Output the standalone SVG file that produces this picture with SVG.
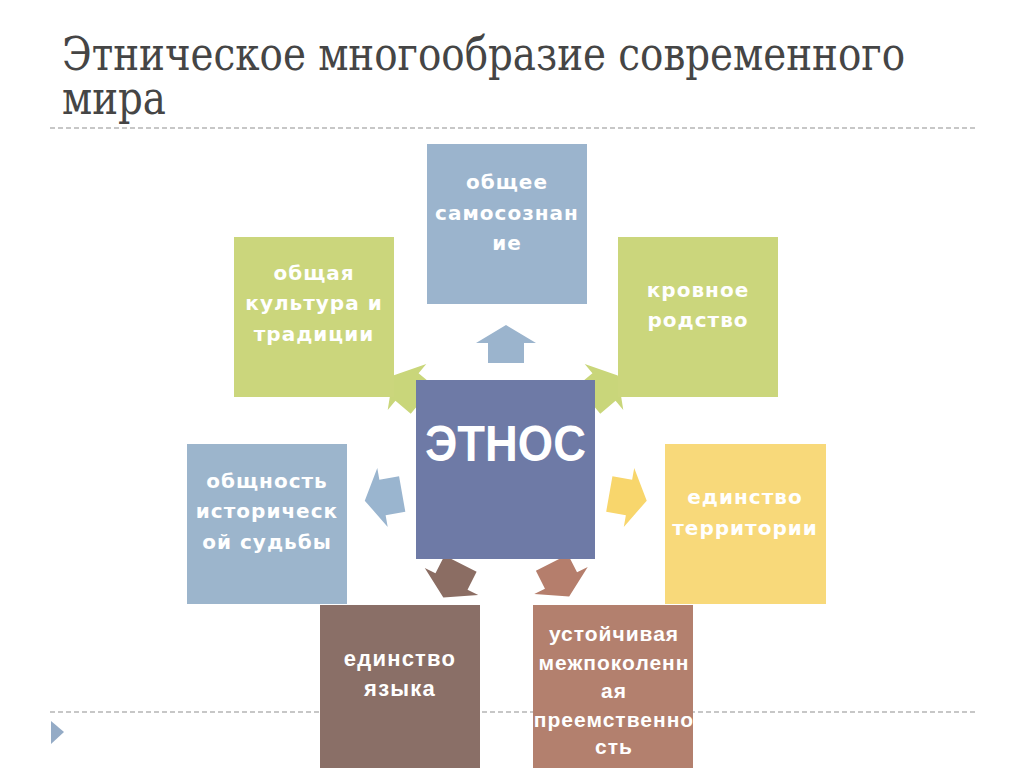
<svg xmlns="http://www.w3.org/2000/svg" width="1024" height="768" viewBox="0 0 1024 768">
<defs>
<style>
.title{font-family:"DejaVu Serif Condensed","DejaVu Serif","Liberation Serif",serif;font-stretch:condensed;font-size:38px;fill:#454545}
.lbl{font-family:"DejaVu Sans","Liberation Sans",sans-serif;font-weight:bold;font-size:20px;fill:#ffffff;text-anchor:middle;letter-spacing:1px}
.lbl2{font-family:"Liberation Sans","Arial",sans-serif;font-weight:bold;font-size:21px;fill:#ffffff;text-anchor:middle;letter-spacing:1px}
.lbl3{font-family:"Liberation Sans","Arial",sans-serif;font-weight:bold;font-size:22px;fill:#ffffff;text-anchor:middle;letter-spacing:1.2px}
.big{font-family:"Liberation Sans","Arial",sans-serif;font-weight:bold;font-size:50px;fill:#ffffff}
.dash{stroke:#b5b5b5;stroke-width:1.5;stroke-dasharray:5 3;fill:none}
</style>
<path id="arr" d="M0,-18 L30,0 L18,0 L18,20 L-18,20 L-18,0 L-30,0 Z"/>
</defs>
<rect width="1024" height="768" fill="#ffffff"/>
<text class="title" transform="translate(62,70) scale(1,1.22)"><tspan x="0" y="0" textLength="843" lengthAdjust="spacingAndGlyphs">Этническое многообразие современного</tspan><tspan x="0" y="36" textLength="104" lengthAdjust="spacingAndGlyphs">мира</tspan></text>
<line class="dash" x1="50" y1="128" x2="975" y2="128"/>
<line class="dash" x1="50" y1="712" x2="975" y2="712"/>
<polygon points="51,721 64,732 51,744" fill="#94abc6"/>
<g id="connectors">
<use href="#arr" fill="#9bb4cd" transform="translate(506,343)"/>
<use href="#arr" fill="#c9d67a" transform="translate(407,387) rotate(-50)"/>
<use href="#arr" fill="#c9d67a" transform="translate(604,387) rotate(50)"/>
<use href="#arr" fill="#9ab5cf" transform="translate(382.5,497.5) rotate(-100)"/>
<use href="#arr" fill="#f8d66c" transform="translate(629,497.5) rotate(100)"/>
<use href="#arr" fill="#8b6d63" transform="translate(451.5,581.5) rotate(-153)"/>
<use href="#arr" fill="#b57e6c" transform="translate(561,580.5) rotate(153)"/>
</g>
<g id="n-top">
<rect x="427" y="144" width="160" height="160" fill="#9bb4cd"/>
<text class="lbl" x="507" y="189">общее</text>
<text class="lbl" x="507" y="220">самосознан</text>
<text class="lbl" x="507" y="250">ие</text>
</g>
<g id="n-culture">
<rect x="234" y="237" width="160" height="160" fill="#cbd67c"/>
<text class="lbl" x="314" y="280">общая</text>
<text class="lbl" x="314" y="310">культура и</text>
<text class="lbl" x="314" y="341">традиции</text>
</g>
<g id="n-blood">
<rect x="618" y="237" width="160" height="160" fill="#cbd67c"/>
<text class="lbl" x="698" y="297">кровное</text>
<text class="lbl" x="698" y="327">родство</text>
</g>
<g id="n-history">
<rect x="187" y="444" width="160" height="160" fill="#9cb5cc"/>
<text class="lbl" x="267" y="488">общность</text>
<text class="lbl" x="267" y="518">историческ</text>
<text class="lbl" x="267" y="549">ой судьбы</text>
</g>
<g id="n-territory">
<rect x="665" y="444" width="161" height="160" fill="#f8d97a"/>
<text class="lbl" x="745" y="504">единство</text>
<text class="lbl" x="745" y="535">территории</text>
</g>
<g id="n-language">
<rect x="320" y="605" width="160" height="163" fill="#8a6f67"/>
<text class="lbl3" x="400" y="666">единство</text>
<text class="lbl3" x="400" y="696">языка</text>
</g>
<g id="n-continuity">
<rect x="533" y="605" width="160" height="163" fill="#b3806e"/>
<text class="lbl2" x="614" y="641">устойчивая</text>
<text class="lbl2" x="614" y="670">межпоколенн</text>
<text class="lbl2" x="614" y="698">ая</text>
<text class="lbl2" x="614" y="727">преемственно</text>
<text class="lbl2" x="614" y="754">сть</text>
</g>
<g id="n-ethnos">
<rect x="416" y="380" width="179" height="179" fill="#6e7aa6"/>
<text class="big" x="425" y="461" textLength="161" lengthAdjust="spacingAndGlyphs">ЭТНОС</text>
</g>
</svg>
